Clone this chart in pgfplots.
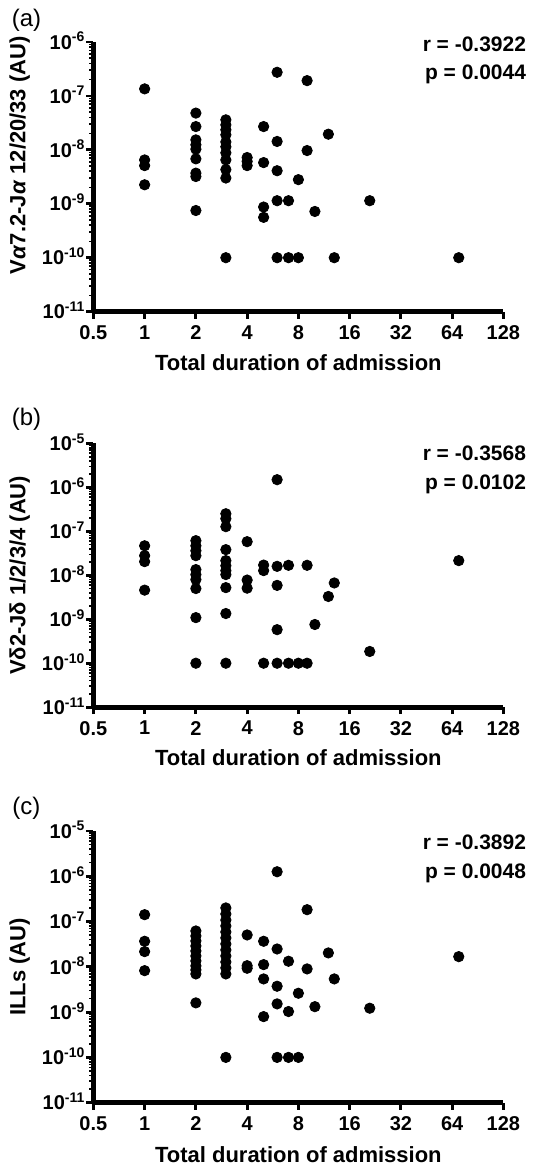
\documentclass[border=0pt]{standalone}
\usepackage{fontspec}
\setmainfont{Liberation Sans}
\usepackage{pgfplots}
\usepackage{pgfplotstable}
\pgfplotsset{compat=1.18}

% panel (a): Valpha7.2-Jalpha 12/20/33
\pgfplotstableread{
x y
1 1.35e-7
1 6.5e-9
1 5.1e-9
1 2.25e-9
2 4.8e-8
2 2.7e-8
2 1.53e-8
2 1.24e-8
2 1.03e-8
2 6.8e-9
2 3.7e-9
2 3.2e-9
2 7.5e-10
3 3.6e-8
3 2.9e-8
3 2.35e-8
3 1.9e-8
3 1.4e-8
3 1.14e-8
3 8.8e-9
3 6.5e-9
3 4.3e-9
3 3.0e-9
3 1e-10
4 7.2e-9
4 6.1e-9
4 5.1e-9
5 2.7e-8
5 5.8e-9
5 8.7e-10
5 5.6e-10
6 2.74e-7
6 1.43e-8
6 4.1e-9
6 1.14e-9
6 1e-10
7 1.14e-9
7 1e-10
8 2.8e-9
8 1e-10
9 1.92e-7
9 9.7e-9
10 7.2e-10
12 1.95e-8
13 1e-10
21 1.14e-9
70 1e-10
}\dataA

% panel (b): Vdelta2-Jdelta 1/2/3/4
\pgfplotstableread{
x y
1 4.7e-8
1 2.8e-8
1 2.05e-8
1 4.6e-9
2 6.15e-8
2 4.7e-8
2 3.64e-8
2 2.8e-8
2 1.35e-8
2 1.04e-8
2 8e-9
2 5e-9
2 1.09e-9
2 1e-10
3 2.52e-7
3 1.95e-7
3 1.28e-7
3 3.84e-8
3 2.16e-8
3 1.66e-8
3 1.28e-8
3 1.04e-8
3 5.25e-9
3 1.35e-9
3 1e-10
4 5.83e-8
4 7.8e-9
4 5.1e-9
5 1.71e-8
5 1.28e-8
5 1e-10
6 1.5e-6
6 1.6e-8
6 5.9e-9
6 5.8e-10
6 1e-10
7 1.69e-8
7 1e-10
8 1e-10
9 1.69e-8
9 1e-10
10 7.6e-10
12 3.3e-9
13 6.7e-9
21 1.85e-10
70 2.16e-8
}\dataB

% panel (c): ILLs
\pgfplotstableread{
x y
1 1.42e-7
1 3.67e-8
1 2.17e-8
1 8.24e-9
2 6.2e-8
2 4.81e-8
2 3.73e-8
2 2.89e-8
2 2.24e-8
2 1.74e-8
2 1.35e-8
2 1.05e-8
2 8.55e-9
2 6.97e-9
2 1.6e-9
3 2.0e-7
3 1.47e-7
3 1.08e-7
3 8.0e-8
3 5.89e-8
3 4.35e-8
3 3.2e-8
3 2.36e-8
3 1.74e-8
3 1.28e-8
3 9.46e-9
3 6.97e-9
3 1e-10
4 5.06e-8
4 1.06e-8
4 9.3e-9
5 3.67e-8
5 1.12e-8
5 5.41e-9
5 7.96e-10
6 1.26e-6
6 2.48e-8
6 3.73e-9
6 1.52e-9
6 1e-10
7 1.33e-8
7 1.03e-9
7 1e-10
8 2.61e-9
8 1e-10
9 1.83e-7
9 9.0e-9
10 1.32e-9
12 2.03e-8
13 5.41e-9
21 1.22e-9
70 1.68e-8
}\dataC

\pgfplotsset{
  every axis/.append style={
    scale only axis,
    width=205.25pt,
    xmin=0.5, xmax=128,
    axis lines*=left,
    axis line style={line width=2.4pt},
    tick align=outside,
    major tick length=3.5pt,
    minor tick length=2pt,
    tick style={black, line width=1.4pt},
    minor tick style={line width=0.8pt},
    xtick={0.5,1,2,4,8,16,32,64,128},
    xticklabels={0.5,1,2,4,8,16,32,64,128},
    xticklabel style={font=\bfseries\fontsize{10}{12}\selectfont},
    yticklabel style={font=\bfseries\fontsize{10}{12}\selectfont, anchor=base east, yshift=-3.6pt, xshift=3pt},
    xlabel={Total duration of admission},
    xlabel style={font=\bfseries\fontsize{11}{13}\selectfont, at={(axis description cs:0.5,-0.19)}, anchor=center},
    ylabel style={font=\bfseries\fontsize{11}{13}\selectfont, anchor=center},
    clip=false,
  },
}

\newcommand{\ex}[1]{10\textsuperscript{#1}}

\begin{document}
\begin{tikzpicture}
\path (0,0) rectangle (268pt,-584.5pt);

% (a)
\begin{loglogaxis}[log basis x=2, at={(46.75pt,-21pt)}, anchor=north west, height=135pt,
  ymin=1e-11, ymax=1e-6,
  ytick={1e-11,1e-10,1e-9,1e-8,1e-7,1e-6},
  yticklabels={\ex{-11},\ex{-10},\ex{-9},\ex{-8},\ex{-7},\ex{-6}},
  minor ytick={2e-11,3e-11,4e-11,5e-11,6e-11,7e-11,8e-11,9e-11,
    2e-10,3e-10,4e-10,5e-10,6e-10,7e-10,8e-10,9e-10,
    2e-9,3e-9,4e-9,5e-9,6e-9,7e-9,8e-9,9e-9,
    2e-8,3e-8,4e-8,5e-8,6e-8,7e-8,8e-8,9e-8,
    2e-7,3e-7,4e-7,5e-7,6e-7,7e-7,8e-7,9e-7},
  ylabel={V\textit{α}7.2-J\textit{α} 12/20/33 (AU)},
  ylabel style={at={(axis description cs:-0.18,0.58)}},
]
\addplot[only marks, mark=*, mark size=2.6pt, black] table {\dataA};
\end{loglogaxis}

% (b)
\begin{loglogaxis}[log basis x=2, at={(46.75pt,-222pt)}, anchor=north west, height=132pt,
  ymin=1e-11, ymax=1e-5,
  ytick={1e-11,1e-10,1e-9,1e-8,1e-7,1e-6,1e-5},
  yticklabels={\ex{-11},\ex{-10},\ex{-9},\ex{-8},\ex{-7},\ex{-6},\ex{-5}},
  minor ytick={2e-11,3e-11,4e-11,5e-11,6e-11,7e-11,8e-11,9e-11,
    2e-10,3e-10,4e-10,5e-10,6e-10,7e-10,8e-10,9e-10,
    2e-9,3e-9,4e-9,5e-9,6e-9,7e-9,8e-9,9e-9,
    2e-8,3e-8,4e-8,5e-8,6e-8,7e-8,8e-8,9e-8,
    2e-7,3e-7,4e-7,5e-7,6e-7,7e-7,8e-7,9e-7,
    2e-6,3e-6,4e-6,5e-6,6e-6,7e-6,8e-6,9e-6},
  ylabel={Vδ2-Jδ 1/2/3/4 (AU)},
  ylabel style={at={(axis description cs:-0.18,0.5)}},
]
\addplot[only marks, mark=*, mark size=2.6pt, black] table {\dataB};
\end{loglogaxis}

% (c)
\begin{loglogaxis}[log basis x=2, at={(46.75pt,-416pt)}, anchor=north west, height=136pt,
  ymin=1e-11, ymax=1e-5,
  ytick={1e-11,1e-10,1e-9,1e-8,1e-7,1e-6,1e-5},
  yticklabels={\ex{-11},\ex{-10},\ex{-9},\ex{-8},\ex{-7},\ex{-6},\ex{-5}},
  minor ytick={2e-11,3e-11,4e-11,5e-11,6e-11,7e-11,8e-11,9e-11,
    2e-10,3e-10,4e-10,5e-10,6e-10,7e-10,8e-10,9e-10,
    2e-9,3e-9,4e-9,5e-9,6e-9,7e-9,8e-9,9e-9,
    2e-8,3e-8,4e-8,5e-8,6e-8,7e-8,8e-8,9e-8,
    2e-7,3e-7,4e-7,5e-7,6e-7,7e-7,8e-7,9e-7,
    2e-6,3e-6,4e-6,5e-6,6e-6,7e-6,8e-6,9e-6},
  ylabel={ILLs (AU)},
  ylabel style={at={(axis description cs:-0.18,0.5)}},
]
\addplot[only marks, mark=*, mark size=2.6pt, black] table {\dataC};
\end{loglogaxis}

% panel letters and statistics
\begin{scope}[font=\fontsize{12}{14}\selectfont]
\node at (13.25pt,-10.25pt) {(a)};
\node at (13.25pt,-209.75pt) {(b)};
\node at (13.25pt,-404.75pt) {(c)};
\end{scope}
\begin{scope}[font=\bfseries\fontsize{10.5}{14}\selectfont]
\node[anchor=base east, inner sep=0pt] at (263.5pt,-26pt) {r = -0.3922};
\node[anchor=base east, inner sep=0pt] at (263.5pt,-40pt) {p = 0.0044};
\node[anchor=base east, inner sep=0pt] at (263.5pt,-230.5pt) {r = -0.3568};
\node[anchor=base east, inner sep=0pt] at (263.5pt,-245pt) {p = 0.0102};
\node[anchor=base east, inner sep=0pt] at (263.5pt,-425.5pt) {r = -0.3892};
\node[anchor=base east, inner sep=0pt] at (263.5pt,-440pt) {p = 0.0048};
\end{scope}
\end{tikzpicture}
\end{document}
